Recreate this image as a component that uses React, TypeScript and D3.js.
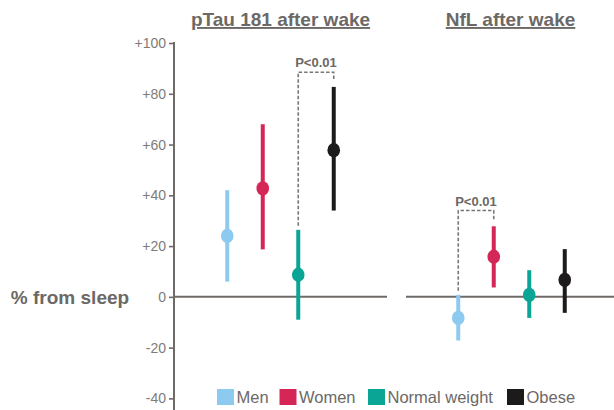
import React, { useRef, useEffect } from 'react';
import * as d3 from 'd3';

// groups + colours
const groups = ['Men', 'Women', 'Normal weight', 'Obese'];
const groupColors = ['#8dcaf0', '#d42758', '#0aa595', '#1c1a1a'];

// panels
const panelTitles = ['pTau 181 after wake', 'NfL after wake'];

// % change from sleep, mean and CI
const ptauMean = [24, 42.7, 8.7, 57.8];
const ptauLow = [6, 18.7, -9, 34];
const ptauHigh = [42, 68, 26.4, 82.7];
const nflMean = [-8.3, 15.8, 0.8, 6.7];
const nflLow = [-17.2, 3.7, -8.3, -6.3];
const nflHigh = [0.8, 27.8, 10.5, 18.8];

const yTicks = [-40, -20, 0, 20, 40, 60, 80, 100];

// significance brackets
const sigPanel = [0, 1];
const sigFrom = [2, 0];
const sigTo = [3, 1];
const sigLevel = [88.5, 34];
const sigLabel = ['P<0.01', 'P<0.01'];

const width = 614;
const height = 410;
const axisX = 174;
const font = '"Liberation Sans", Arial, sans-serif';
const gray = '#6e6a67';
const textGray = '#6c6866';

const App = () => {
    const axisRef = useRef<SVGGElement>(null);

    const y = d3.scaleLinear().domain([-40, 100]).range([398.4, 43]);

    const panelRanges: [number, number][] = [[axisX, 387], [405, 618]];
    const xScales = panelRanges.map(r =>
        d3.scalePoint<string>().domain(groups).range(r).padding(1.5)
    );
    const panelData = [
        { mean: ptauMean, low: ptauLow, high: ptauHigh },
        { mean: nflMean, low: nflLow, high: nflHigh },
    ];

    useEffect(() => {
        const g = d3.select(axisRef.current);
        g.selectAll('*').remove();
        g.call(
            d3.axisLeft(y)
                .tickValues(yTicks)
                .tickSize(5)
                .tickPadding(3)
                .tickFormat(d => (+d > 0 ? `+${d}` : `${d}`))
        );
        g.select('.domain').remove();
        g.selectAll('.tick line')
            .attr('stroke', gray)
            .attr('stroke-width', 1.6);
        g.selectAll('.tick text')
            .attr('fill', '#807b78')
            .style('font-family', font)
            .style('font-size', '14px');
    }, []);

    // legend x positions (layout)
    const legendX = [217, 279.5, 368, 507];

    return (
        <div style={{ position: 'absolute', left: 0, top: 0 }}>
            <svg width={width} height={height} style={{ display: 'block', background: '#fff' }}>
                {/* titles */}
                {panelTitles.map((t, i) => (
                    <text key={t} x={(panelRanges[i][0] + panelRanges[i][1]) / 2 + (i === 1 ? -1 : 0)} y={26}
                        textAnchor="middle" fontFamily={font} fontSize={19} fontWeight="bold"
                        fill={textGray} textDecoration="underline">{t}</text>
                ))}

                {/* y label */}
                <text x={70} y={304} textAnchor="middle" fontFamily={font} fontSize={19}
                    fontWeight="bold" fill={textGray}>% from sleep</text>

                {/* zero lines */}
                <line x1={axisX} x2={387} y1={y(0)} y2={y(0)} stroke={gray} strokeWidth={2} />
                <line x1={406} x2={width} y1={y(0)} y2={y(0)} stroke={gray} strokeWidth={2} />

                {/* y axis */}
                <g ref={axisRef} transform={`translate(${axisX},0)`} />
                <line x1={axisX} x2={axisX} y1={y(100) - 1} y2={height} stroke={gray} strokeWidth={2} />

                {/* significance brackets */}
                {sigPanel.map((p, i) => {
                    const xs = xScales[p];
                    const d = panelData[p];
                    const x1 = xs(groups[sigFrom[i]])!;
                    const x2 = xs(groups[sigTo[i]])!;
                    const top = y(sigLevel[i]);
                    const path = d3.path();
                    path.moveTo(x1, y(d.high[sigFrom[i]]) - 4);
                    path.lineTo(x1, top);
                    path.lineTo(x2, top);
                    path.lineTo(x2, y(d.high[sigTo[i]]) - 6);
                    return (
                        <g key={i}>
                            <path d={path.toString()} fill="none" stroke="#7a7673" strokeWidth={1.6}
                                strokeDasharray="3.5,2" />
                            <text x={(x1 + x2) / 2} y={top - 5} textAnchor="middle" fontFamily={font}
                                fontSize={13} fontWeight="bold" fill={textGray}>{sigLabel[i]}</text>
                        </g>
                    );
                })}

                {/* error bars and means */}
                {panelData.map((d, p) => (
                    <g key={p}>
                        {groups.map((grp, i) => {
                            const cx = xScales[p](grp)!;
                            return (
                                <g key={grp}>
                                    <line x1={cx} x2={cx} y1={y(d.low[i])} y2={y(d.high[i])}
                                        stroke={groupColors[i]} strokeWidth={4} />
                                    <ellipse cx={cx} cy={y(d.mean[i])} rx={6.3} ry={7.2} fill={groupColors[i]} />
                                </g>
                            );
                        })}
                    </g>
                ))}

                {/* legend */}
                {groups.map((grp, i) => (
                    <g key={grp} transform={`translate(${legendX[i]},389)`}>
                        <rect width={17} height={16} fill={groupColors[i]} />
                        <text x={19.5} y={14} fontFamily={font} fontSize={16.5} fill={textGray}>{grp}</text>
                    </g>
                ))}
            </svg>
        </div>
    );
};

export default App;
